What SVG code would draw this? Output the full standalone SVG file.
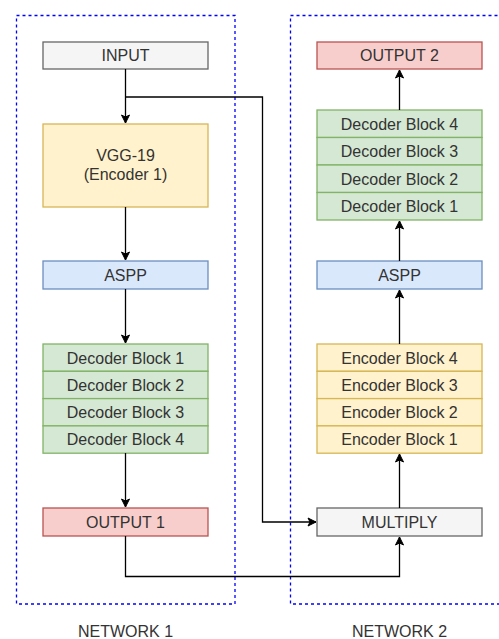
<svg xmlns="http://www.w3.org/2000/svg" width="499" height="639" viewBox="0 0 499 639">
<style>
text{font-family:"Liberation Sans",Arial,sans-serif;font-size:16px;fill:#333333;text-anchor:middle}
.net{fill:none;stroke:#0000ff;stroke-width:1.3;stroke-dasharray:3 3}
.gray{fill:#f5f5f5;stroke:#666666;stroke-width:1.3}
.yel{fill:#fff2cc;stroke:#d6b656;stroke-width:1.3}
.blu{fill:#dae8fc;stroke:#6c8ebf;stroke-width:1.3}
.grn{fill:#d5e8d4;stroke:#82b366;stroke-width:1.3}
.red{fill:#f8cecc;stroke:#b85450;stroke-width:1.3}
.edge{fill:none;stroke:#000000;stroke-width:1.3}
</style>
<defs>
<marker id="arr" markerWidth="10" markerHeight="10" refX="9" refY="5" orient="auto" markerUnits="userSpaceOnUse">
<path d="M1,1 L9,5 L1,9 L3,5 Z" fill="#000000" stroke="#000000" stroke-width="1"/>
</marker>
</defs>
<g id="network1">
<rect class="net" x="16.5" y="15.5" width="218.5" height="588.5"/>
<text x="125.5" y="637">NETWORK 1</text>
</g>
<g id="network2">
<rect class="net" x="290.5" y="15.5" width="218.5" height="588.5"/>
<text x="399.5" y="637">NETWORK 2</text>
</g>
<g id="input"><rect class="gray" x="43" y="42" width="165" height="27"/><text x="125.5" y="61" fill="#333">INPUT</text></g>
<g id="vgg"><rect class="yel" x="43" y="124" width="165" height="83"/><text x="125.5" y="161">VGG-19</text><text x="125.5" y="180">(Encoder 1)</text></g>
<g id="aspp1"><rect class="blu" x="43" y="261" width="165" height="28"/><text x="125.5" y="281">ASPP</text></g>
<g id="dec1-1"><rect class="grn" x="43" y="344" width="165" height="27.3"/><text x="125.5" y="363.5">Decoder Block 1</text></g>
<g id="dec1-2"><rect class="grn" x="43" y="371.3" width="165" height="27.3"/><text x="125.5" y="390.8">Decoder Block 2</text></g>
<g id="dec1-3"><rect class="grn" x="43" y="398.6" width="165" height="27.3"/><text x="125.5" y="418.1">Decoder Block 3</text></g>
<g id="dec1-4"><rect class="grn" x="43" y="425.9" width="165" height="27.3"/><text x="125.5" y="445.4">Decoder Block 4</text></g>
<g id="output1"><rect class="red" x="43" y="508" width="165" height="28"/><text x="125.5" y="528">OUTPUT 1</text></g>
<g id="output2"><rect class="red" x="317" y="42" width="165" height="27"/><text x="399.5" y="61">OUTPUT 2</text></g>
<g id="dec2-4"><rect class="grn" x="317" y="110" width="165" height="27.5"/><text x="399.5" y="129.5">Decoder Block 4</text></g>
<g id="dec2-3"><rect class="grn" x="317" y="137.5" width="165" height="27.5"/><text x="399.5" y="157">Decoder Block 3</text></g>
<g id="dec2-2"><rect class="grn" x="317" y="165" width="165" height="27.5"/><text x="399.5" y="184.5">Decoder Block 2</text></g>
<g id="dec2-1"><rect class="grn" x="317" y="192.5" width="165" height="27.5"/><text x="399.5" y="212">Decoder Block 1</text></g>
<g id="aspp2"><rect class="blu" x="317" y="261" width="165" height="28"/><text x="399.5" y="281">ASPP</text></g>
<g id="enc2-4"><rect class="yel" x="317" y="344" width="165" height="27.3"/><text x="399.5" y="363.5">Encoder Block 4</text></g>
<g id="enc2-3"><rect class="yel" x="317" y="371.3" width="165" height="27.3"/><text x="399.5" y="390.8">Encoder Block 3</text></g>
<g id="enc2-2"><rect class="yel" x="317" y="398.6" width="165" height="27.3"/><text x="399.5" y="418.1">Encoder Block 2</text></g>
<g id="enc2-1"><rect class="yel" x="317" y="425.9" width="165" height="27.3"/><text x="399.5" y="445.4">Encoder Block 1</text></g>
<g id="multiply"><rect class="gray" x="317" y="508" width="165" height="28"/><text x="399.5" y="528" style="fill:#333">MULTIPLY</text></g>
<g id="connectors">
<path class="edge" d="M125.5,69 V123" marker-end="url(#arr)"/>
<path class="edge" d="M125.5,97 H262.5 V522 H316" marker-end="url(#arr)"/>
<path class="edge" d="M125.5,207 V260" marker-end="url(#arr)"/>
<path class="edge" d="M125.5,289 V343" marker-end="url(#arr)"/>
<path class="edge" d="M125.5,453 V507" marker-end="url(#arr)"/>
<path class="edge" d="M125.5,536 V576.5 H399.5 V537" marker-end="url(#arr)"/>
<path class="edge" d="M399.5,508 V454" marker-end="url(#arr)"/>
<path class="edge" d="M399.5,344 V290" marker-end="url(#arr)"/>
<path class="edge" d="M399.5,261 V221" marker-end="url(#arr)"/>
<path class="edge" d="M399.5,110 V70" marker-end="url(#arr)"/>
</g>
</svg>
